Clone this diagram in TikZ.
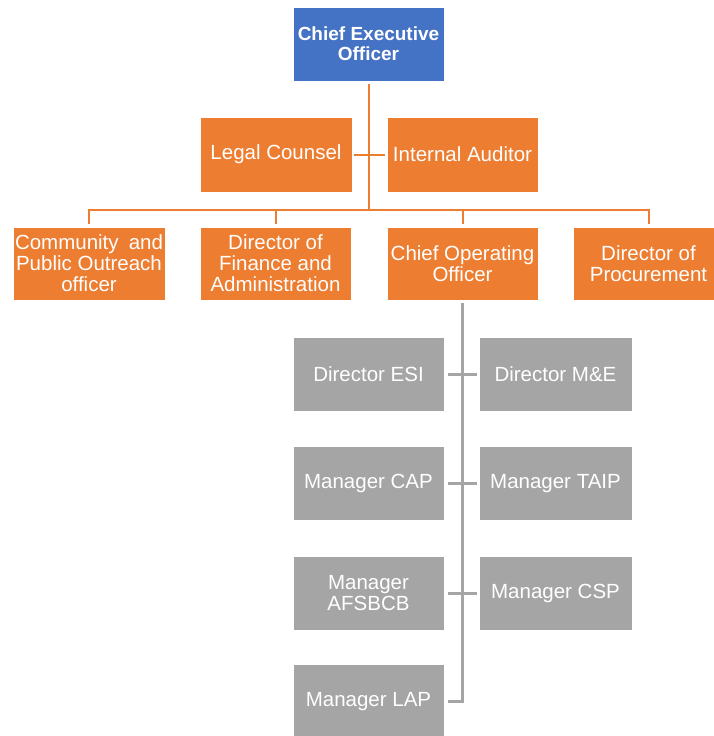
\documentclass[tikz,border=0pt]{standalone}
\usepackage{fontspec}
\setmainfont{Liberation Sans}
\definecolor{ceoblue}{HTML}{4472C4}
\definecolor{orgorange}{HTML}{ED7D31}
\definecolor{orggray}{HTML}{A5A5A5}
\begin{document}
\begin{tikzpicture}[x=1pt,y=-1pt,
  box/.style={draw=white, line width=0.8pt, minimum height=74pt, inner sep=1pt, text=white, align=center,
    font=\fontsize{20.5}{21}\selectfont},
  obox/.style={box, fill=orgorange},
  gbox/.style={box, fill=orggray},
  cbox/.style={box, fill=ceoblue, font=\fontsize{19}{20}\selectfont\bfseries},
  oline/.style={draw=orgorange, line width=2pt},
  gline/.style={draw=orggray, line width=3pt}]
\useasboundingbox (0,0) rectangle (713,736);
% nodes
\node[cbox, minimum width=151pt] (ceo) at (368.5,44) {Chief Executive\\Officer};
\node[obox, minimum width=152pt, minimum height=75pt] (legal) at (276,154.5) {Legal Counsel};
\node[obox, minimum width=151pt, minimum height=75pt] (internal) at (462.5,154.5) {Internal Auditor};
\node[obox, minimum width=152pt, minimum height=73pt] (comm) at (89,263.5) {\makebox[148pt][s]{Community and}\\Public Outreach\\officer};
\node[obox, minimum width=151pt, minimum height=73pt] (fin) at (275.5,263.5) {Director of\\Finance and\\Administration};
\node[obox, minimum width=151pt, minimum height=73pt] (coo) at (462.5,263.5) {Chief Operating\\Officer};
\node[obox, minimum width=151pt, minimum height=73pt] (proc) at (648.5,263.5) {Director of\\Procurement};
\node[gbox, minimum width=151pt] (esi) at (368.5,374) {Director ESI};
\node[gbox, minimum width=153pt] (me) at (555.5,374) {Director M\&E};
\node[gbox, minimum width=151pt] (cap) at (368.5,483.5) {Manager CAP};
\node[gbox, minimum width=153pt] (taip) at (555.5,483.5) {Manager TAIP};
\node[gbox, minimum width=151pt] (afs) at (368.5,593) {Manager\\AFSBCB};
\node[gbox, minimum width=153pt] (csp) at (555.5,593) {Manager CSP};
\node[gbox, minimum width=151pt] (lap) at (368.5,701.5) {Manager LAP};
% connectors
\coordinate (bus) at (368.5,209.5);
\draw[oline, shorten <=3pt] (ceo.south) -- (bus);
\draw[oline, shorten <=2pt, shorten >=2pt] (legal.east) -- (internal.west);
\draw[oline, shorten <=3pt, shorten >=3pt] (comm.north) |- (bus) -| (proc.north);
\draw[oline, shorten >=3pt] (bus) -| (fin.north);
\draw[oline, shorten >=3pt] (bus) -| (coo.north);
\draw[gline, shorten <=3pt, shorten >=4pt] (coo.south) |- (lap.east);
\draw[gline, shorten <=4pt, shorten >=2pt] (esi.east) -- (me.west);
\draw[gline, shorten <=4pt, shorten >=2pt] (cap.east) -- (taip.west);
\draw[gline, shorten <=4pt, shorten >=2pt] (afs.east) -- (csp.west);
\end{tikzpicture}
\end{document}
